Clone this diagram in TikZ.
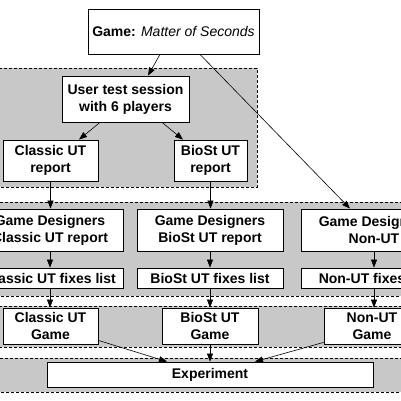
\documentclass[tikz,border=0pt]{standalone}
\usepackage{fontspec}
\setmainfont{Liberation Sans}
\usetikzlibrary{arrows.meta}
\definecolor{grpfill}{RGB}{200,200,200}
\begin{document}
\begin{tikzpicture}[x=1pt,y=-1pt,
  box/.style={draw, fill=white, line width=0.8pt, inner sep=0pt, align=center,
    font=\bfseries\fontsize{14}{16.8}\selectfont},
  grpbox/.style={fill=grpfill, draw, line width=0.7pt, dash pattern=on 3pt off 2pt},
  arr/.style={line width=0.6pt, -{Triangle[length=8pt,width=6pt]}}]
\useasboundingbox (0,0) rectangle (401,401);
\clip (0,0) rectangle (401,401);
\fill[white] (0,0) rectangle (401,401);
% groups
\draw[grpbox] (-30,68) rectangle (257,187);
\draw[grpbox] (-30,202) rectangle (440,296);
\draw[grpbox] (-30,306) rectangle (440,347);
\draw[grpbox] (-30,358) rectangle (440,392);
% nodes
\node[box, minimum width=171pt, minimum height=45pt] (game) at (173.5,31.5)
  {Game: \mdseries\itshape Matter of Seconds};
\node[box, minimum width=127pt, minimum height=46pt] (user) at (125.5,99)
  {User test session\\with 6 players};
\node[box, minimum width=95pt, minimum height=41pt] (crep) at (50.5,160.5)
  {Classic UT\\report};
\node[box, minimum width=73pt, minimum height=41pt] (brep) at (210.5,160.5)
  {BioSt UT\\report};
\node[box, minimum width=146pt, minimum height=42pt] (gdc) at (50,230)
  {Game Designers\\Classic UT report};
\node[box, minimum width=146pt, minimum height=42pt] (gdb) at (210,230)
  {Game Designers\\BioSt UT report};
\node[box, minimum width=146pt, minimum height=42pt] (gdn) at (374,230)
  {Game Designers\\Non-UT};
\node[box, minimum width=146pt, minimum height=20pt] (fc) at (50,278)
  {Classic UT fixes list};
\node[box, minimum width=146pt, minimum height=20pt] (fb) at (210,278)
  {BioSt UT fixes list};
\node[box, minimum width=146pt, minimum height=20pt] (fn) at (374,278)
  {Non-UT fixes list};
\node[box, minimum width=95pt, minimum height=36pt] (gc) at (50.5,326)
  {Classic UT\\Game};
\node[box, minimum width=96pt, minimum height=36pt] (gb) at (210,326)
  {BioSt UT\\Game};
\node[box, minimum width=96pt, minimum height=36pt] (gn) at (372,326)
  {Non-UT\\Game};
\node[box, minimum width=326pt, minimum height=25pt] (exp) at (210,374.5)
  {Experiment};
% connectors
\draw[arr] ([xshift=-13.5pt]game.south) -- ([xshift=22.5pt]user.north);
\draw[arr] ([xshift=26.5pt]game.south) -- ([xshift=-24pt]gdn.north);
\draw[arr] ([xshift=-25.5pt]user.south) -- ([xshift=28.5pt]crep.north);
\draw[arr] ([xshift=36.5pt]user.south) -- ([xshift=-27.5pt]brep.north);
\draw[arr] (crep.south) -- (crep.south |- gdc.north);
\draw[arr] (brep.south) -- (brep.south |- gdb.north);
\draw[arr] (gdc.south) -- (fc.north);
\draw[arr] (gdb.south) -- (fb.north);
\draw[arr] (gdn.south) -- (fn.north);
\draw[arr] (fc.south) -- (fc.south |- gc.north);
\draw[arr] (fb.south) -- (gb.north);
\draw[arr] (fn.south) -- (fn.south |- gn.north);
\draw[arr] ([yshift=4pt]gc.south east) -- ([xshift=-43pt]exp.north);
\draw[arr] (gb.south) -- (exp.north);
\draw[arr] ([yshift=2pt]gn.south west) -- ([xshift=45pt]exp.north);
\end{tikzpicture}
\end{document}
